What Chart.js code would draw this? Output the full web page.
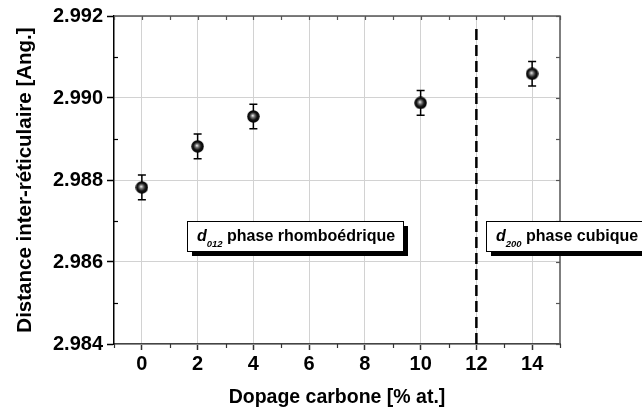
<!DOCTYPE html>
<html><head><meta charset="utf-8">
<script src="https://cdn.jsdelivr.net/npm/chart.js@4"></script>
<style>html,body{margin:0;padding:0;background:#fff;overflow:hidden}</style>
</head><body>
<canvas id="c" width="642" height="412" style="display:block;width:642px;height:412px"></canvas>
<script>
// ---- data ----
const dopage = [0, 2, 4, 10, 14];
const distance = [2.98782, 2.98882, 2.98955, 2.98988, 2.99059];
const erreur = [0.0003, 0.0003, 0.0003, 0.0003, 0.0003];
const xTickValues = [0, 2, 4, 6, 8, 10, 12, 14];
const yTickValues = [2.984, 2.986, 2.988, 2.990, 2.992];
const transitionX = [12];
const phaseSubs = ['012', '200'];
const phaseTexts = ['phase rhomboédrique', 'phase cubique'];
const xTitle = 'Dopage carbone [% at.]';
const yTitle = 'Distance inter-réticulaire [Ang.]';

const FONT = "'Liberation Sans', Arial, Helvetica, sans-serif";
Chart.defaults.font.family = FONT;
Chart.defaults.color = '#000';

// sphere marker
const sphere = document.createElement('canvas');
sphere.width = sphere.height = 13;
(function(){
  const g = sphere.getContext('2d');
  const grad = g.createRadialGradient(5.8, 5.6, 0.3, 6.5, 6.5, 6.3);
  grad.addColorStop(0, '#e8e8e8');
  grad.addColorStop(0.25, '#7a7a7a');
  grad.addColorStop(0.6, '#151515');
  grad.addColorStop(1, '#000');
  g.fillStyle = grad;
  g.beginPath(); g.arc(6.5, 6.5, 6.2, 0, Math.PI * 2); g.fill();
})();

// annotation anchors (data coords) – layout only
const boxAnchors = [{x: 1.62, y: 2.98701}, {x: 12.36, y: 2.98701}];

const decoPlugin = {
  id: 'deco',
  beforeDatasetsDraw(chart) {
    const {ctx, chartArea: a, scales: {x, y}} = chart;
    ctx.save();
    // top & right frame
    ctx.strokeStyle = '#555'; ctx.lineWidth = 1.5;
    ctx.beginPath();
    ctx.moveTo(a.left, a.top); ctx.lineTo(a.right, a.top); ctx.lineTo(a.right, a.bottom);
    ctx.stroke();
    // minor / frame ticks
    ctx.lineWidth = 1.2;
    for (let v = -1; v <= 15; v++) {
      const px = Math.round(x.getPixelForValue(v)) + 0.5;
      ctx.strokeStyle = '#555';
      ctx.beginPath(); ctx.moveTo(px, a.top); ctx.lineTo(px, a.top + 4); ctx.stroke();
      if (v % 2 !== 0) {
        ctx.strokeStyle = '#333';
        ctx.beginPath(); ctx.moveTo(px, a.bottom); ctx.lineTo(px, a.bottom + 4); ctx.stroke();
      }
    }
    for (let k = 0; k <= 8; k++) {
      const v = 2.984 + k * 0.001;
      const py = Math.round(y.getPixelForValue(v)) + 0.5;
      ctx.strokeStyle = '#555';
      ctx.beginPath(); ctx.moveTo(a.right - 4, py); ctx.lineTo(a.right, py); ctx.stroke();
      if (k % 2 === 1) {
        ctx.strokeStyle = '#000';
        ctx.beginPath(); ctx.moveTo(a.left, py); ctx.lineTo(a.left + 4, py); ctx.stroke();
      }
    }
    // dashed transition line
    transitionX.forEach(t => {
      const px = x.getPixelForValue(t);
      ctx.strokeStyle = '#000'; ctx.lineWidth = 2.5; ctx.setLineDash([11, 5]);
      ctx.beginPath(); ctx.moveTo(px, a.top + 13); ctx.lineTo(px, a.bottom); ctx.stroke();
      ctx.setLineDash([]);
    });
    // error bars
    ctx.strokeStyle = '#000'; ctx.lineWidth = 1.5;
    dopage.forEach((d, i) => {
      const px = x.getPixelForValue(d);
      const pt = y.getPixelForValue(distance[i] + erreur[i]);
      const pb = y.getPixelForValue(distance[i] - erreur[i]);
      ctx.beginPath();
      ctx.moveTo(px, pt); ctx.lineTo(px, pb);
      ctx.moveTo(px - 4, pt); ctx.lineTo(px + 4, pt);
      ctx.moveTo(px - 4, pb); ctx.lineTo(px + 4, pb);
      ctx.stroke();
    });
    ctx.restore();
  },
  afterDatasetsDraw(chart) {
    const {ctx, scales: {x, y}} = chart;
    ctx.save();
    boxAnchors.forEach((b, i) => {
      const left = Math.round(x.getPixelForValue(b.x));
      const top = Math.round(y.getPixelForValue(b.y));
      ctx.font = 'italic bold 16px ' + FONT;
      const wd = ctx.measureText('d').width;
      ctx.font = 'italic bold 9.5px ' + FONT;
      const ws = ctx.measureText(phaseSubs[i]).width;
      ctx.font = 'bold 16px ' + FONT;
      const wt = ctx.measureText(' ' + phaseTexts[i]).width;
      const w = Math.round(10 + wd + ws + wt + 8), h = 30;
      ctx.fillStyle = '#000'; ctx.fillRect(left + 5, top + 5, w, h);
      ctx.fillStyle = '#fff'; ctx.fillRect(left, top, w, h);
      ctx.strokeStyle = '#000'; ctx.lineWidth = 1;
      ctx.strokeRect(left + 0.5, top + 0.5, w, h);
      ctx.fillStyle = '#000'; ctx.textBaseline = 'alphabetic'; ctx.textAlign = 'left';
      let cx = left + 10;
      ctx.font = 'italic bold 16px ' + FONT; ctx.fillText('d', cx, top + 20); cx += wd;
      ctx.font = 'italic bold 9.5px ' + FONT; ctx.fillText(phaseSubs[i], cx, top + 26); cx += ws;
      ctx.font = 'bold 16px ' + FONT; ctx.fillText(' ' + phaseTexts[i], cx, top + 20);
    });
    ctx.restore();
  }
};

new Chart(document.getElementById('c'), {
  type: 'scatter',
  data: {
    datasets: [{
      data: dopage.map((d, i) => ({x: d, y: distance[i]})),
      pointStyle: sphere,
      pointRadius: 6,
      showLine: false
    }]
  },
  options: {
    responsive: false,
    animation: false,
    devicePixelRatio: 1,
    layout: {padding: {top: 15, right: 82, left: 0, bottom: 0}},
    plugins: {legend: {display: false}, tooltip: {enabled: false}},
    scales: {
      x: {
        type: 'linear', min: -1, max: 15,
        afterBuildTicks: s => { s.ticks = xTickValues.map(v => ({value: v})); },
        afterFit: s => { s.height = 68; },
        grid: {color: '#d2d2d2', lineWidth: 1, tickLength: 6, tickColor: '#333', tickWidth: 1.5},
        border: {display: true, color: '#444', width: 1.5},
        ticks: {font: {size: 20, weight: 'bold'}, padding: 2, color: '#000', maxRotation: 0},
        title: {display: true, text: xTitle, font: {size: 19.5, weight: 'bold'}, padding: {top: 0, bottom: 3}, color: '#000'}
      },
      y: {
        type: 'linear', min: 2.984, max: 2.992,
        afterBuildTicks: s => { s.ticks = yTickValues.map(v => ({value: v})); },
        afterFit: s => { s.width = 114; },
        grid: {color: '#d2d2d2', lineWidth: 1, tickLength: 7, tickColor: '#000', tickWidth: 1.5},
        border: {display: true, color: '#000', width: 1.5},
        ticks: {font: {size: 20, weight: 'bold'}, padding: 4, color: '#000', callback: v => Number(v).toFixed(3)},
        title: {display: true, text: yTitle, font: {size: 20.5, weight: 'bold'}, padding: {top: 13, bottom: 0}, color: '#000'}
      }
    }
  },
  plugins: [decoPlugin]
});
</script>
</body></html>
